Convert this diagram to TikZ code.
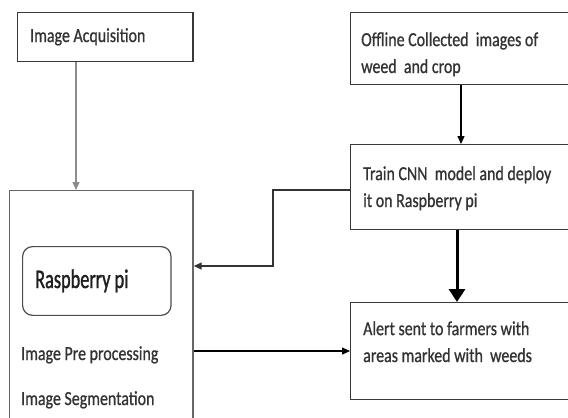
\documentclass[tikz,border=0pt]{standalone}
\usepackage{fontspec}
\setmainfont{Carlito}[FakeStretch=0.8, FakeBold=0.8]
\newfontfamily\rpifont{Carlito}[FakeStretch=0.68, FakeBold=1.2]
\usetikzlibrary{arrows.meta}

\tikzset{
  box/.style={draw=black!78, line width=1.4bp, anchor=north west, inner sep=0pt},
  lbl/.style={anchor=base west, inner sep=0pt, text=black!80, align=left,
    font=\fontsize{20}{27}\selectfont},
  arr/.style={line width=1.2bp, -{Triangle[length=8bp,width=7bp]}},
}

\begin{document}
\begin{tikzpicture}[x=1bp, y=-1bp]
		\useasboundingbox (0,0) rectangle (568,417);
		\fill[white] (0,0) rectangle (568,417);
		\clip (0,0) rectangle (568,417);
		
		% Boxes
		\node[box, minimum width=176, minimum height=49] (acq) at (17,12) {};
		\node[box, minimum width=230, minimum height=72] (off) at (350,12) {};
		\node[box, minimum width=230, minimum height=85] (train) at (350,144) {};
		\node[box, minimum width=230, minimum height=97] (alert) at (350,302) {};
		\node[box, draw=black!60, minimum width=184, minimum height=260] (main) at (9,190) {};
		\node[box, draw=black!70, line width=1.2bp, rounded corners=10, minimum width=149, minimum height=69] (rpi) at (22,246) {};
		
		% Labels (multi-line ones sit on their last baseline)
		\node[lbl] (acqtxt) at (30,42) {Image Acquisition};
		\node[lbl] (offtxt) at (361,73) {Offline Collected~ images of\\weed~ and crop};
		\node[lbl] (traintxt) at (363,207) {Train CNN~ model and deploy\\it on Raspberry pi};
		\node[lbl] (alerttxt) at (363,362) {Alert sent to farmers with\\areas marked with~ weeds};
		\node[lbl, text=black!88, font=\rpifont\fontsize{27}{30}\selectfont] (rpitxt) at (35,288) {Raspberry pi};
		\node[lbl] (pretxt) at (21,360) {Image Pre processing};
		\node[lbl] (segtxt) at (21,405) {Image Segmentation};
		
		% Connectors
		\draw[arr, black!45] (acq.south west) ++(59,0) coordinate (a1) -- (a1 |- main.north);
		\draw[arr] (off.south west) ++(111,0) coordinate (a2) -- (a2 |- train.north);
		\coordinate (fb) at (273,266);
		\draw[arr, black!80] (train.west |- main.north) -| (fb) -- (fb -| main.east);
		\draw[line width=3bp, -{Triangle[length=13bp,width=16bp]}] (train.south west) ++(107,0) coordinate (a3) -- (a3 |- alert.north);
		\draw[arr] (alert.west -| main.east) -- (alert.west);
		
	\end{tikzpicture}
\end{document}
